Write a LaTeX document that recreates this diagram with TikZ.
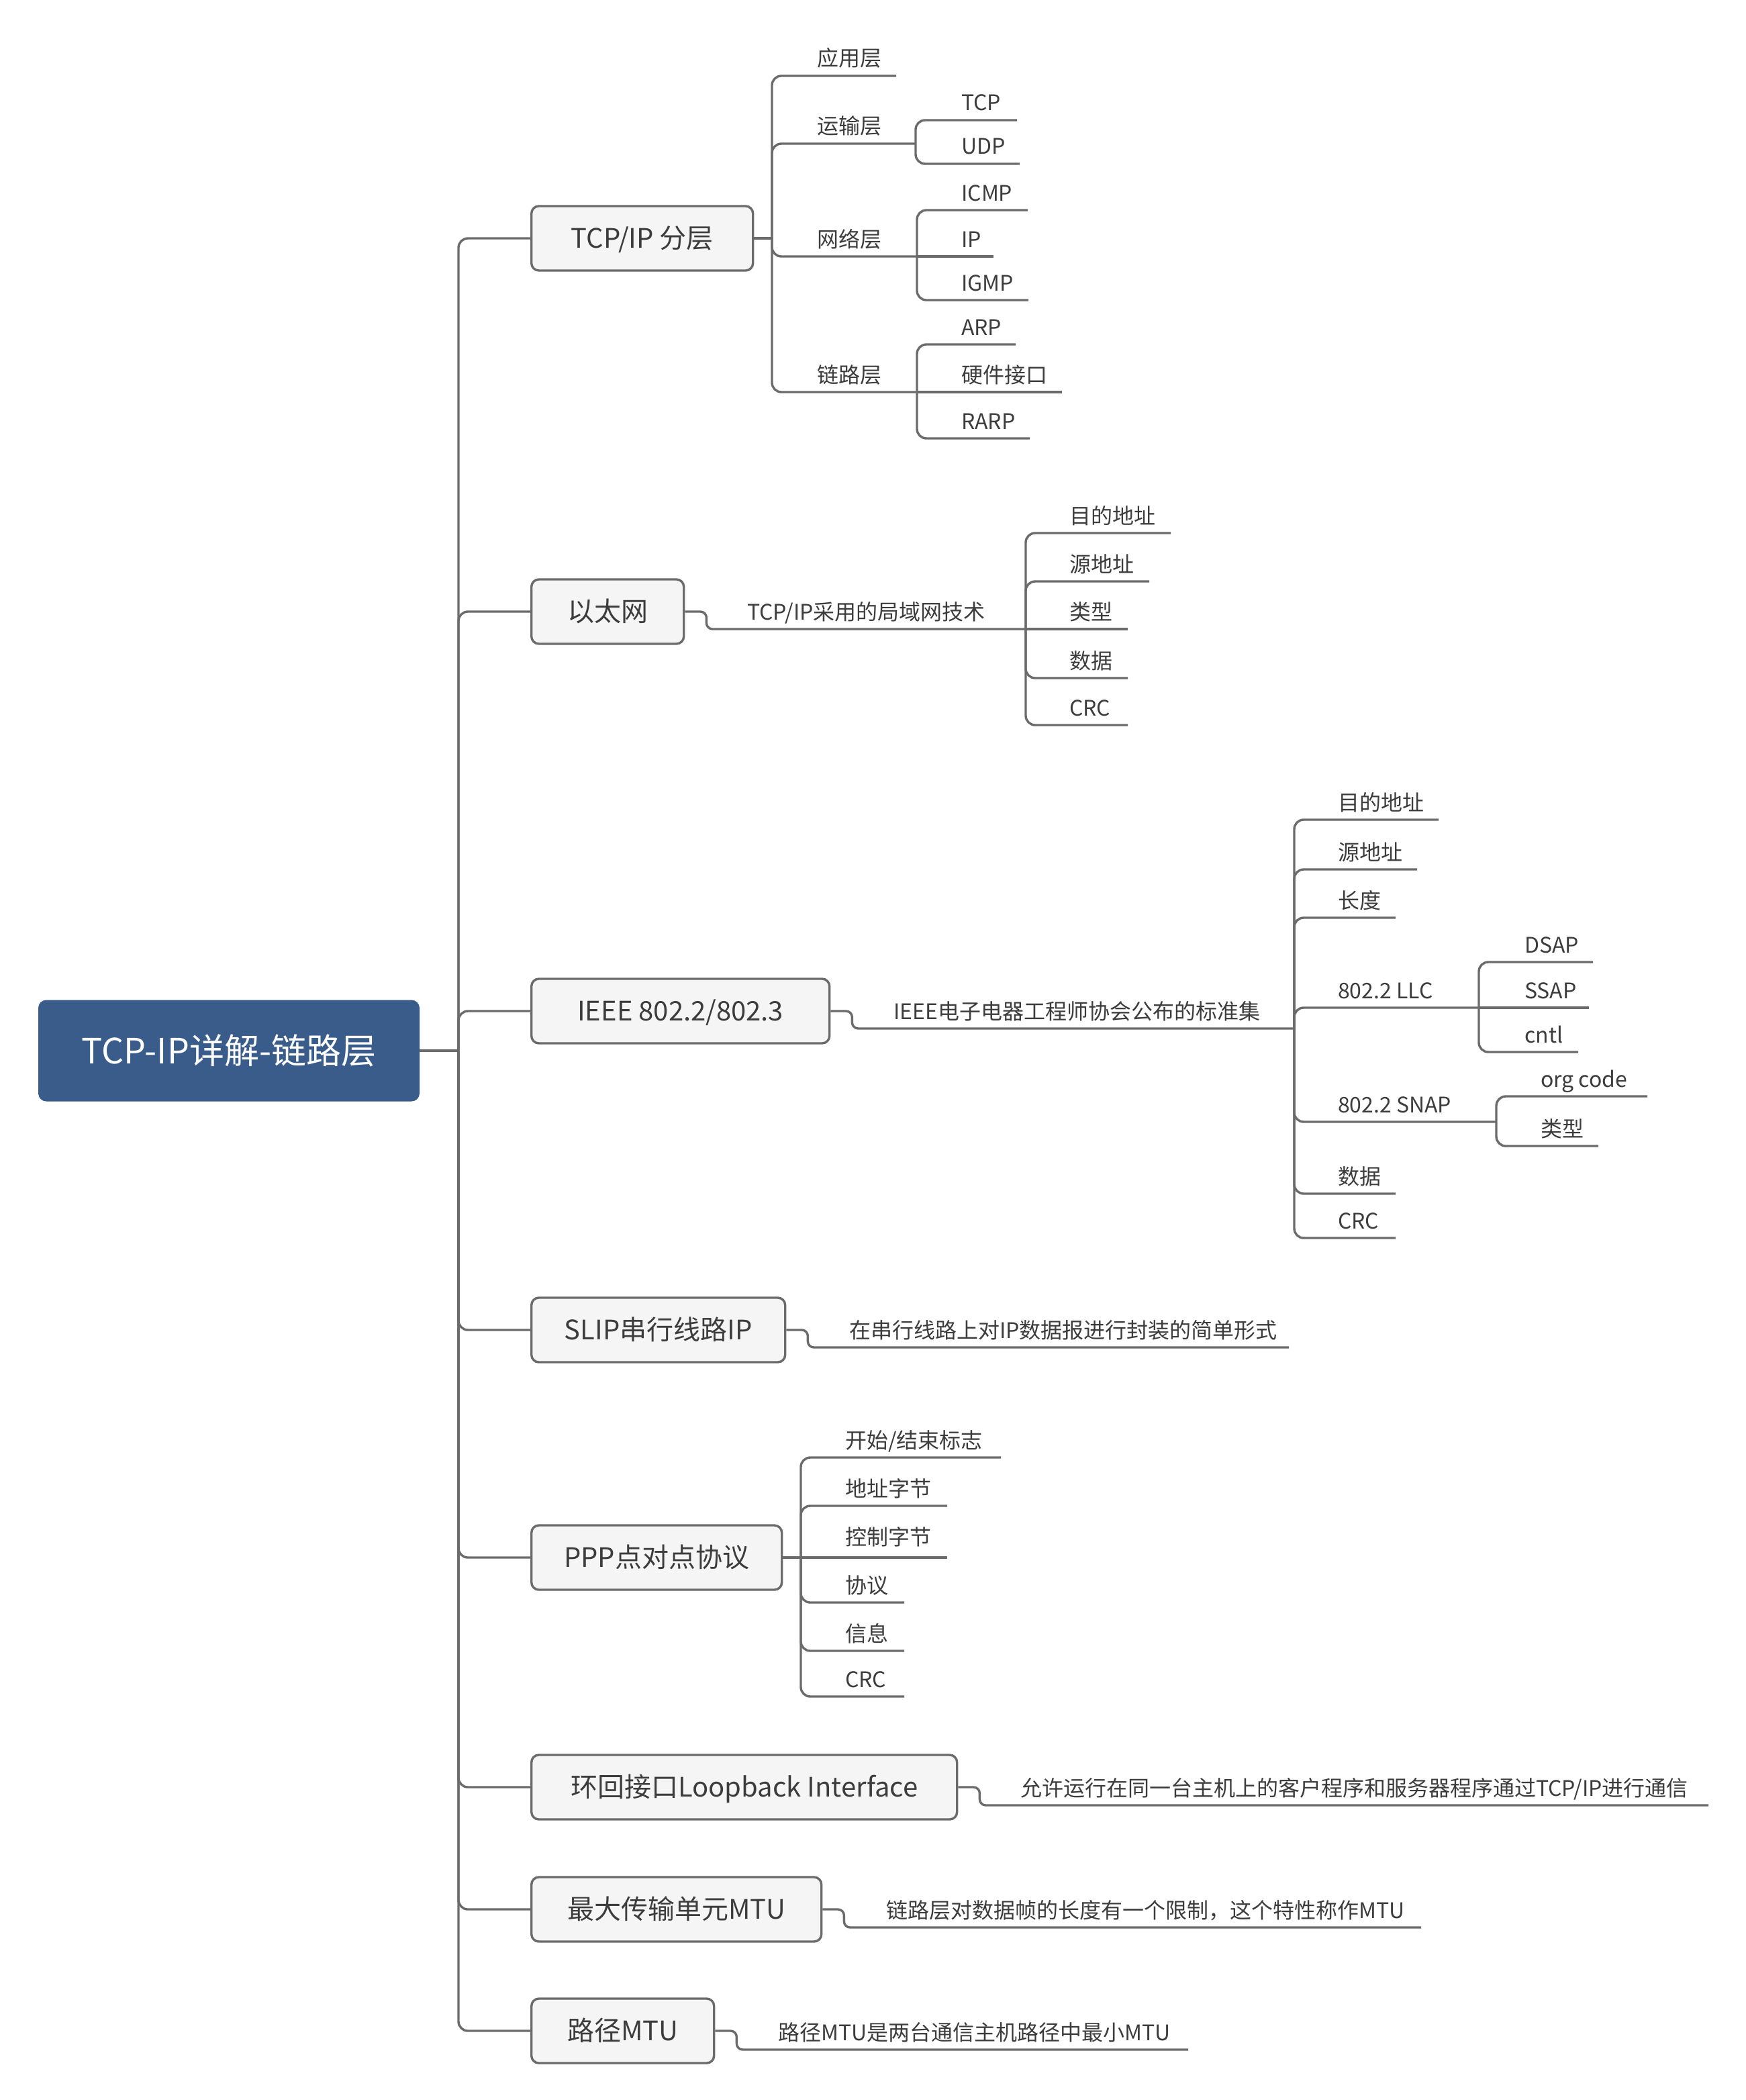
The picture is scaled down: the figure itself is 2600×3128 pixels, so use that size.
\documentclass[tikz,border=0pt]{standalone}
\usepackage{fontspec}
\setmainfont{Noto Sans CJK SC}
\definecolor{rootblue}{HTML}{395C8A}
\definecolor{linegray}{HTML}{6B6B6B}
\definecolor{txtgray}{HTML}{3C3C3C}
\definecolor{boxfill}{HTML}{F5F5F5}
\tikzset{
  conn/.style={draw=linegray, line width=3.4pt, rounded corners=14pt},
  sconn/.style={draw=linegray, line width=3.4pt, rounded corners=9pt},
  rootbox/.style={fill=rootblue, rounded corners=12pt, minimum width=568pt, minimum height=151pt,
    text=white, font=\fontsize{52}{60}\selectfont, text height=38pt, text depth=0pt, inner sep=0pt},
  mainbox/.style={draw=linegray, line width=3.4pt, fill=boxfill, rounded corners=11pt,
    minimum height=96pt, text=txtgray, font=\fontsize{40}{48}\selectfont,
    text height=29pt, text depth=0pt, inner sep=0pt, anchor=west},
  leaf/.style={text=txtgray, font=\fontsize{32}{38}\selectfont, inner sep=0pt, anchor=base west},
}
% leaf with corner from junction #6
\newcommand\mmleaf[6]{%
  \node[leaf] (#1) at (#2,#3-14) {#5};
  \coordinate (#1e) at (#4,#3);
  \draw[conn] (#6) |- (#1e);
}
% leaf on the junction's own level
\newcommand\mmleafs[6]{%
  \node[leaf] (#1) at (#2,#3-14) {#5};
  \coordinate (#1e) at (#4,#3);
  \draw[conn] (#6) -- (#1e);
}
% single text child of a main box: #1 name, #2 box, #3 text x, #4 ul y, #5 end x, #6 text
\newcommand\mmsingle[6]{%
  \node[leaf] (#1) at (#3,#4-14) {#6};
  \coordinate (#1e) at (#5,#4);
  \draw[sconn] (#2.east) -- ([xshift=32pt]#2.east) |- (#1e);
}
\begin{document}
\begin{tikzpicture}[x=1pt,y=-1pt]
\useasboundingbox (0,0) rectangle (2600,3128);

\node[rootbox] (root) at (341,1565) {TCP-IP详解-链路层};
\coordinate (trunk) at (683,1565);
\draw[conn] (root.east) -- (trunk);

\node[mainbox, minimum width=330pt] (b1) at (790,355) {TCP/IP 分层};
\node[mainbox, minimum width=227pt] (b2) at (790,911) {以太网};
\node[mainbox, minimum width=444pt] (b3) at (790,1506) {IEEE 802.2/802.3};
\node[mainbox, minimum width=378pt] (b4) at (790,1981) {SLIP串行线路IP};
\node[mainbox, minimum width=373pt] (b5) at (790,2320) {PPP点对点协议};
\node[mainbox, minimum width=634pt] (b6) at (790,2662) {环回接口Loopback Interface};
\node[mainbox, minimum width=432pt] (b7) at (790,2844) {最大传输单元MTU};
\node[mainbox, minimum width=272pt] (b8) at (790,3025) {路径MTU};

\foreach \b in {b1,b2,b3,b4,b5,b6,b7,b8} {\draw[conn] (trunk) |- (\b.west);}

% TCP/IP layers
\coordinate (j1) at (1150,355);
\draw[conn] (b1.east) -- (j1);
\mmleaf{app}{1217}{113}{1335}{应用层}{j1}
\mmleaf{trans}{1217}{214}{1364}{运输层}{j1}
\mmleaf{tcp}{1432}{179}{1515}{TCP}{transe}
\mmleaf{udp}{1432}{244}{1519}{UDP}{transe}
\mmleaf{net}{1217}{382}{1366}{网络层}{j1}
\mmleaf{icmp}{1432}{313}{1531}{ICMP}{nete}
\mmleafs{ip}{1432}{382}{1480}{IP}{nete}
\mmleaf{igmp}{1432}{447}{1532}{IGMP}{nete}
\mmleaf{link}{1217}{584}{1366}{链路层}{j1}
\mmleaf{arp}{1432}{513}{1513}{ARP}{linke}
\mmleafs{hw}{1432}{584}{1582}{硬件接口}{linke}
\mmleaf{rarp}{1432}{653}{1534}{RARP}{linke}

% Ethernet
\mmsingle{eth}{b2}{1113}{937}{1528}{TCP/IP采用的局域网技术}
\mmleaf{edst}{1593}{794}{1744}{目的地址}{ethe}
\mmleaf{esrc}{1593}{866}{1712}{源地址}{ethe}
\mmleafs{etype}{1593}{937}{1680}{类型}{ethe}
\mmleaf{edata}{1593}{1010}{1680}{数据}{ethe}
\mmleaf{ecrc}{1593}{1080}{1680}{CRC}{ethe}

% IEEE
\mmsingle{ieee}{b3}{1331}{1532}{1928}{IEEE电子电器工程师协会公布的标准集}
\mmleaf{idst}{1993}{1221}{2143}{目的地址}{ieeee}
\mmleaf{isrc}{1993}{1295}{2111}{源地址}{ieeee}
\mmleaf{ilen}{1993}{1367}{2079}{长度}{ieeee}
\mmleaf{llc}{1993}{1501}{2203}{802.2 LLC}{ieeee}
\mmleaf{dsap}{2271}{1433}{2373}{DSAP}{llce}
\mmleafs{ssap}{2271}{1501}{2367}{SSAP}{llce}
\mmleaf{cntl}{2271}{1567}{2351}{cntl}{llce}
\mmleaf{snap}{1993}{1671}{2229}{802.2 SNAP}{ieeee}
\mmleaf{org}{2295}{1633}{2454}{org code}{snape}
\mmleaf{stype}{2295}{1707}{2381}{类型}{snape}
\mmleaf{idata}{1993}{1778}{2079}{数据}{ieeee}
\mmleaf{icrc}{1993}{1844}{2079}{CRC}{ieeee}

% SLIP
\mmsingle{slip}{b4}{1265}{2007}{1920}{在串行线路上对IP数据报进行封装的简单形式}

% PPP
\coordinate (j5) at (1193,2320);
\draw[conn] (b5.east) -- (j5);
\mmleaf{pflag}{1259}{2171}{1491}{开始/结束标志}{j5}
\mmleaf{paddr}{1259}{2243}{1411}{地址字节}{j5}
\node[leaf] (pctl) at (1259,2301) {控制字节};
\coordinate (pctle) at (1411,2320);
\draw[conn] (j5) -- (pctle);
\mmleaf{pproto}{1259}{2387}{1347}{协议}{j5}
\mmleaf{pinfo}{1259}{2459}{1347}{信息}{j5}
\mmleaf{pcrc}{1259}{2527}{1347}{CRC}{j5}

% Loopback, MTU, path MTU
\mmsingle{loop}{b6}{1520}{2689}{2545}{允许运行在同一台主机上的客户程序和服务器程序通过TCP/IP进行通信}
\mmsingle{mtu}{b7}{1320}{2871}{2117}{链路层对数据帧的长度有一个限制，这个特性称作MTU}
\mmsingle{pmtu}{b8}{1159}{3053}{1770}{路径MTU是两台通信主机路径中最小MTU}
\end{tikzpicture}
\end{document}
